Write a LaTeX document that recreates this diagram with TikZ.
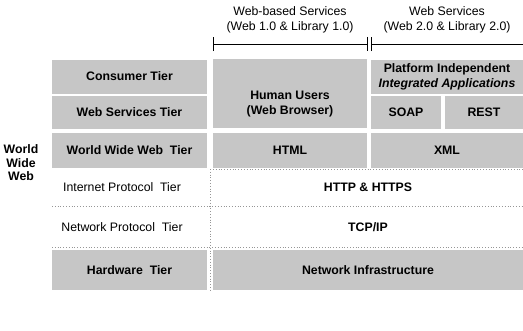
\documentclass[tikz,border=0pt]{standalone}
\usepackage{fontspec}
\setmainfont{Liberation Sans}
\usepackage{tikz}
\usetikzlibrary{arrows.meta, positioning}
\definecolor{tiergray}{RGB}{198, 198, 198}
\definecolor{linegray}{RGB}{150, 150, 150}

\begin{document}
\begin{tikzpicture}[
    x=0.03cm, y=-0.03cm,
    tier/.style={rectangle, fill=tiergray, inner sep=1pt, align=center, font=\fontsize{10.5}{12.5}\selectfont\bfseries},
    plain/.style={inner sep=1pt, align=center, font=\fontsize{10.5}{12.5}\selectfont},
    head/.style={inner sep=1pt, align=center, font=\fontsize{10.5}{12.5}\selectfont},
    bracket/.style={{Bar[width=12pt]}-{Bar[width=12pt]}, thin},
    sep/.style={linegray, dotted, thin}
]
    \useasboundingbox (0,0) rectangle (523,331);

    % Headings
    \node[head] (web1) at (290, 20) {Web-based Services\\(Web 1.0 \& Library 1.0)};
    \node[head] (web2) at (447, 20) {Web Services\\(Web 2.0 \& Library 2.0)};
    \coordinate (b1l) at (213, 44);
    \coordinate (b1r) at (367, 44);
    \coordinate (b2l) at (371, 44);
    \coordinate (b2r) at (523, 44);
    \draw[bracket] (b1l) -- (b1r);
    \draw[bracket] (b2l) -- (b2r);

    % Tier names
    \node[tier, minimum width=4.65cm, minimum height=1.02cm] (consumer) at (129.5, 76.5) {Consumer Tier};
    \node[tier, minimum width=4.65cm, minimum height=0.99cm] (websvc) at (129.5, 112.5) {Web Services Tier};
    \node[tier, minimum width=4.65cm, minimum height=1.05cm] (www) at (129.5, 150.5) {World Wide Web\ \ Tier};
    \node[plain] (internet) at (122, 187) {Internet Protocol\ \ Tier};
    \node[plain] (network) at (122, 227) {Network Protocol\ \ Tier};
    \node[tier, minimum width=4.65cm, minimum height=1.2cm] (hardware) at (129.5, 270) {Hardware\ \ Tier};

    % Web 1.0 column
    \node[tier, minimum width=4.62cm, minimum height=2.07cm,
          label={[tier, fill=none, align=center, yshift=-9]center:Human Users\\(Web Browser)}] (human) at (290, 93.5) {};
    \node[tier, minimum width=4.62cm, minimum height=1.05cm] (html) at (290, 150.5) {HTML};

    % Web 2.0 column
    \node[tier, minimum width=4.56cm, minimum height=1.02cm] (platform) at (447, 76.5) {Platform Independent\\\itshape Integrated Applications};
    \node[tier, minimum width=2.1cm, minimum height=0.99cm] (soap) at (406, 112.5) {SOAP};
    \node[tier, minimum width=2.34cm, minimum height=0.99cm] (rest) at (484, 112.5) {REST};
    \node[tier, minimum width=4.56cm, minimum height=1.05cm] (xml) at (447, 150.5) {XML};

    % Shared lower tiers
    \node[plain, font=\fontsize{10.5}{12.5}\selectfont\bfseries] (http) at (368, 187) {HTTP \& HTTPS};
    \node[plain, font=\fontsize{10.5}{12.5}\selectfont\bfseries] (tcpip) at (368, 227) {TCP/IP};
    \node[tier, minimum width=9.3cm, minimum height=1.2cm] (infra) at (368, 270) {Network Infrastructure};

    % Side label
    \node[plain, font=\fontsize{10.5}{11.5}\selectfont\bfseries] (wwwlabel) at (21, 163) {World\\Wide\\Web};

    % Dotted separators
    \coordinate (s1l) at (213, 169);  \coordinate (s1r) at (523, 169);
    \coordinate (s2l) at (52, 206.5); \coordinate (s2r) at (523, 206.5);
    \coordinate (s3l) at (52, 247.5); \coordinate (s3r) at (523, 247.5);
    \coordinate (vt) at (210, 169);   \coordinate (vb) at (210, 290);
    \draw[sep] (s1l) -- (s1r);
    \draw[sep] (s2l) -- (s2r);
    \draw[sep] (s3l) -- (s3r);
    \draw[sep] (vt) -- (vb);
\end{tikzpicture}
\end{document}
